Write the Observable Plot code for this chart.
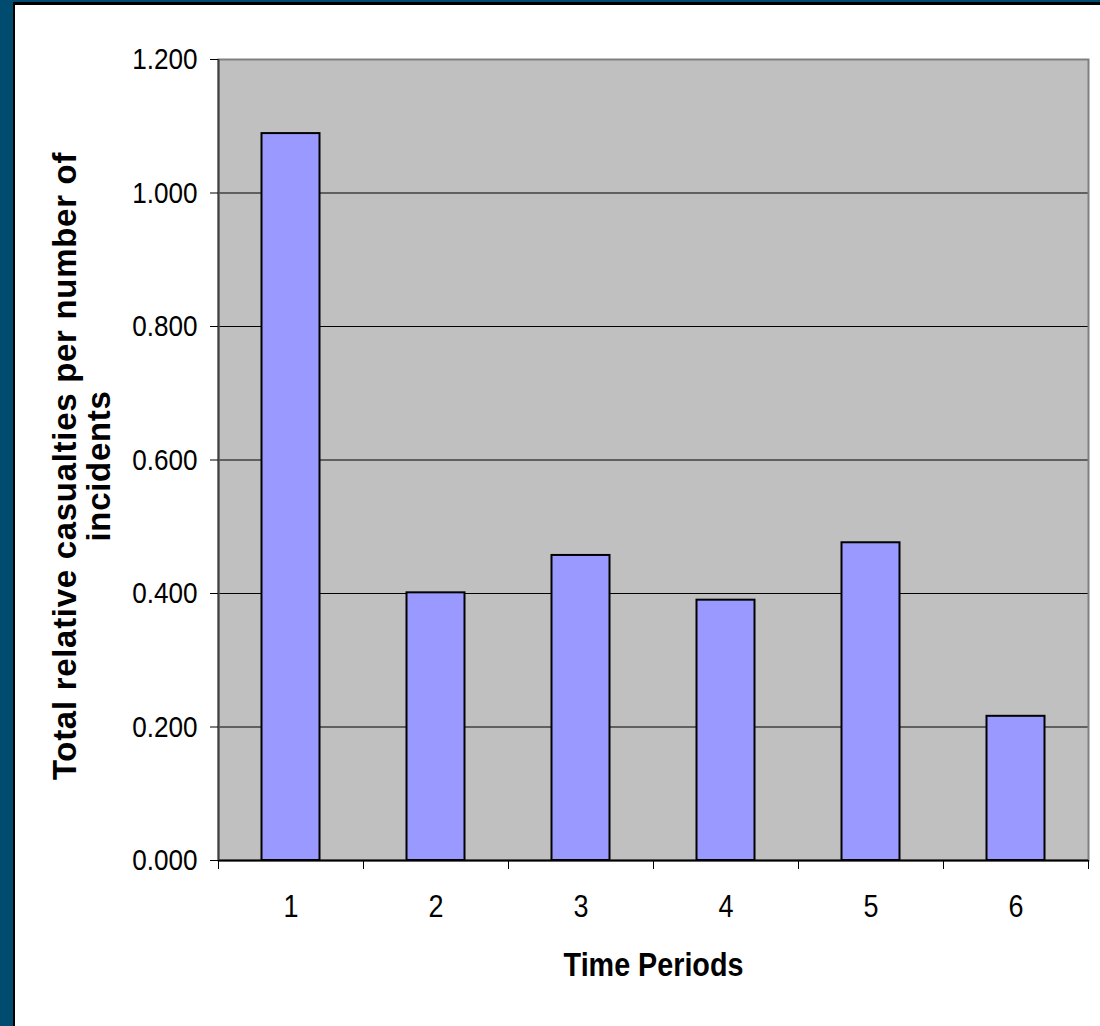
<!DOCTYPE html>
<html>
<head>
<meta charset="utf-8">
<script src="https://cdn.jsdelivr.net/npm/d3@7"></script>
<script src="https://cdn.jsdelivr.net/npm/@observablehq/plot@0.6"></script>
<style>
  html, body { margin: 0; padding: 0; background: #ffffff; }
  body { width: 1100px; height: 1026px; position: relative; overflow: hidden; }
  #frame { position: absolute; left: 0; top: 0; width: 1100px; height: 1026px; box-sizing: border-box;
           border-left: 13px solid #004B70; border-top: 2px solid #004B70; }
  #inner { position: absolute; left: 0; top: 0; right: 0; bottom: 0; box-sizing: border-box;
           border-left: 2px solid #000; border-top: 3px solid #000; }
  #chart { position: absolute; left: 0; top: 0; }
</style>
</head>
<body>
<div id="frame"><div id="inner"></div></div>
<div id="chart"></div>
<script>
const periods = [1, 2, 3, 4, 5, 6];
const values = [1.089, 0.401, 0.457, 0.390, 0.476, 0.216];
const yTicks = [0, 0.2, 0.4, 0.6, 0.8, 1.0, 1.2];
const boundaries = [0.5, 1.5, 2.5, 3.5, 4.5, 5.5, 6.5];
const xTitle = "Time Periods";
const yTitle = "Total relative casualties per number of\nincidents";

const data = periods.map((p, i) => ({period: p, value: values[i]}));
const halfBar = 0.2;
const font = "'Liberation Sans', Arial, Helvetica, sans-serif";

const chart = Plot.plot({
  width: 1100,
  height: 1026,
  marginLeft: 218,
  marginRight: 12,
  marginTop: 59,
  marginBottom: 166,
  style: {background: "transparent", fontFamily: font, fontSize: "30px", color: "#000"},
  x: {type: "linear", domain: [0.5, 6.5]},
  y: {domain: [0, 1.2]},
  marks: [
    Plot.frame({fill: "#C0C0C0", stroke: null}),
    Plot.gridY(yTicks.filter(t => t > 0 && t < 1.2), {stroke: "#000", strokeOpacity: 1, strokeWidth: 1}),
    Plot.frame({stroke: "#808080", strokeWidth: 2}),
    Plot.rect(data, {x1: d => d.period - halfBar, x2: d => d.period + halfBar, y1: 0, y2: "value",
                     fill: "#9999FF", stroke: "#000", strokeWidth: 2}),
    Plot.ruleY([0], {stroke: "#000", strokeWidth: 2}),
    Plot.ruleX([0.5], {stroke: "#404040", strokeWidth: 2}),
    Plot.axisY({ticks: yTicks, tickFormat: d3.format(".3f"), tickSize: 8, tickPadding: 13,
                fontSize: 30, label: null, stroke: "#000"}),
    Plot.axisX({ticks: boundaries, tickFormat: () => "", tickSize: 9, label: null, stroke: "#000"}),
    Plot.axisX({ticks: periods, tickFormat: d3.format("d"), tickSize: 0, tickPadding: 34,
                fontSize: 31, label: null}),
    Plot.text([xTitle], {frameAnchor: "bottom", dy: 115, fontSize: 33, fontWeight: "bold", fill: "#000"}),
    Plot.text([yTitle], {frameAnchor: "left", textAnchor: "middle", dx: -136, dy: 6, rotate: -90,
                         fontSize: 33, fontWeight: "bold", lineHeight: 1.03, fill: "#000"})
  ]
});

document.getElementById("chart").appendChild(chart);

const tickTexts = new Set(yTicks.map(d3.format(".3f")).concat(periods.map(String), [xTitle]));
chart.querySelectorAll("text").forEach(t => {
  const s = t.textContent;
  if (tickTexts.has(s)) {
    const w = t.getComputedTextLength();
    t.setAttribute("textLength", (w * 0.87).toFixed(2));
    t.setAttribute("lengthAdjust", "spacingAndGlyphs");
  } else if (s.startsWith("Total")) {
    t.style.letterSpacing = "0.7px";
  }
});
</script>
</body>
</html>
